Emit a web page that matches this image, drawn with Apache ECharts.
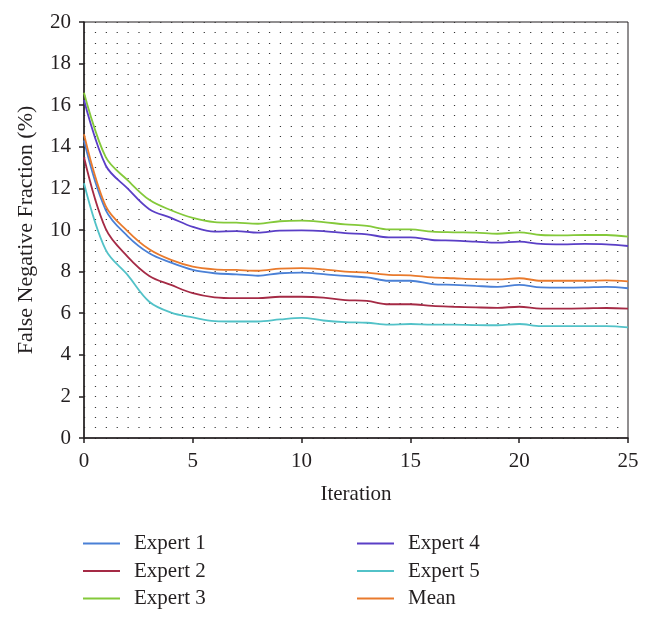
<!DOCTYPE html>
<html>
<head>
<meta charset="utf-8">
<script src="https://cdn.jsdelivr.net/npm/echarts@6/dist/echarts.min.js"></script>
<style>html,body{margin:0;padding:0;background:#fff}#c{width:653px;height:620px}</style>
</head>
<body>
<div id="c"></div>
<script>
const iterations = [0,1,2,3,4,5,6,7,8,9,10,11,12,13,14,15,16,17,18,19,20,21,22,23,24,25];
const expert1 = [14.3,10.96,9.71,8.88,8.43,8.08,7.92,7.87,7.8,7.92,7.95,7.88,7.79,7.72,7.56,7.56,7.4,7.36,7.31,7.27,7.36,7.24,7.23,7.24,7.27,7.2];
const expert2 = [13.5,10.05,8.72,7.79,7.36,6.96,6.76,6.72,6.72,6.79,6.79,6.75,6.63,6.59,6.43,6.43,6.35,6.31,6.28,6.26,6.31,6.22,6.22,6.23,6.25,6.22];
const expert3 = [16.6,13.5,12.4,11.45,10.95,10.58,10.38,10.35,10.3,10.42,10.45,10.38,10.27,10.2,10.03,10.03,9.92,9.89,9.87,9.82,9.89,9.76,9.74,9.76,9.76,9.68];
const expert4 = [16.25,13.1,12.0,11.0,10.58,10.15,9.92,9.95,9.87,9.97,9.98,9.95,9.85,9.79,9.65,9.65,9.52,9.49,9.44,9.39,9.44,9.33,9.31,9.33,9.31,9.23];
const expert5 = [12.25,9.04,7.84,6.55,6.03,5.8,5.62,5.6,5.6,5.7,5.78,5.65,5.57,5.54,5.45,5.48,5.45,5.45,5.43,5.42,5.48,5.38,5.38,5.38,5.38,5.32];
const meanVals = [14.6,11.15,9.95,9.07,8.56,8.24,8.11,8.08,8.04,8.14,8.17,8.11,8.0,7.95,7.84,7.82,7.72,7.68,7.64,7.63,7.68,7.56,7.56,7.56,7.58,7.53];

const seriesNames = ['Expert 1','Expert 2','Expert 3','Expert 4','Expert 5','Mean'];
const seriesData = [expert1, expert2, expert3, expert4, expert5, meanVals];
const seriesColors = ['#4a80d6','#a52a45','#84c93a','#5a3fc6','#52c2c8','#e97a2c'];

const FONT = 'Liberation Serif';
const chart = echarts.init(document.getElementById('c'), null, {renderer:'canvas'});
const dotStyle = {color:'#333', width:1.2, type:[1.2, 9.68]};
const legendIcon = 'path://M0,0h37v2h-37zM46,0h0.01v0.01h-0.01z';
const legendBase = {
  orient:'vertical', top:533, padding:0, itemWidth:46, itemHeight:2, itemGap:6.5, icon:legendIcon,
  textStyle:{fontFamily:FONT, fontSize:21, color:'#231f20', lineHeight:20.5}
};
chart.setOption({
  animation:false,
  backgroundColor:'#fff',
  grid:{left:84, right:25, top:22, bottom:182, show:true, borderColor:'#231f20', borderWidth:1, backgroundColor:'transparent'},
  legend:[
    Object.assign({left:83, data:seriesNames.slice(0,3)}, legendBase),
    Object.assign({left:357, data:seriesNames.slice(3)}, legendBase)
  ],
  xAxis:{
    type:'value', min:0, max:25, interval:5,
    name:'Iteration', nameLocation:'middle', nameGap:46,
    nameTextStyle:{fontFamily:FONT, fontSize:21, color:'#231f20'},
    axisLine:{show:true, lineStyle:{color:'#231f20', width:1.5}},
    axisTick:{show:true, inside:false, length:5, lineStyle:{color:'#231f20', width:1.5}},
    axisLabel:{fontFamily:FONT, fontSize:21, color:'#231f20', margin:13},
    splitLine:{show:false}
  },
  yAxis:{
    type:'value', min:0, max:20, interval:2,
    name:'False Negative Fraction (%)', nameLocation:'middle', nameGap:47,
    nameTextStyle:{fontFamily:FONT, fontSize:22, color:'#231f20'},
    axisLine:{show:true, lineStyle:{color:'#231f20', width:1.5}},
    axisTick:{show:true, inside:false, length:5, lineStyle:{color:'#231f20', width:1.5}},
    axisLabel:{fontFamily:FONT, fontSize:21, color:'#231f20', margin:13},
    splitLine:{show:true, lineStyle:dotStyle},
    minorTick:{show:false, splitNumber:4},
    minorSplitLine:{show:true, lineStyle:dotStyle}
  },
  series: seriesNames.map((n,i)=>({
    name:n, type:'line', symbol:'none', smooth:0.35,
    data: iterations.map((x,k)=>[x, seriesData[i][k]]),
    lineStyle:{color:seriesColors[i], width:1.8},
    itemStyle:{color:seriesColors[i]}
  }))
});
</script>
</body>
</html>
